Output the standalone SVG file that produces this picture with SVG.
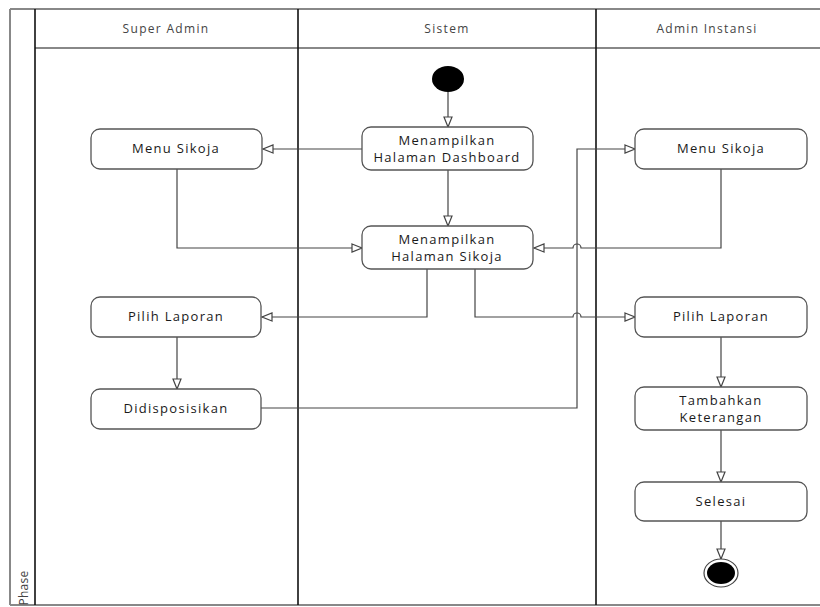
<svg xmlns="http://www.w3.org/2000/svg" width="820" height="607" viewBox="0 0 820 607">
<style>
.lbl{font-family:"Open Sans","Noto Sans","Liberation Sans",sans-serif;font-size:12px;letter-spacing:1.3px;fill:#444;text-anchor:middle}
.nt{font-family:"Open Sans","Noto Sans","Liberation Sans",sans-serif;font-size:13px;letter-spacing:1.3px;fill:#1a1a1a;text-anchor:middle}
.box{fill:#fff;stroke:#555;stroke-width:1.3}
.ln{fill:none;stroke:#444;stroke-width:1.2}
.fr{stroke:#888;stroke-width:2;fill:none}
.dv{stroke:#111;stroke-width:1.6;fill:none}
</style>
<defs>
<marker id="ah" viewBox="0 0 12 10" refX="11" refY="5" markerWidth="12" markerHeight="10" markerUnits="userSpaceOnUse" orient="auto">
<path d="M1,1 L11,5 L1,9 Z" fill="#fff" stroke="#444" stroke-width="1.2"/>
</marker>
</defs>
<rect width="820" height="607" fill="#fff"/>
<g id="frame">
<line class="fr" x1="10" y1="9" x2="820" y2="9"/>
<line class="fr" x1="35" y1="48" x2="820" y2="48"/>
<line class="fr" x1="10" y1="605" x2="820" y2="605"/>
<line class="fr" x1="10" y1="9" x2="10" y2="605"/>
<line class="dv" x1="35" y1="9" x2="35" y2="605"/>
<line class="dv" x1="298" y1="9" x2="298" y2="605"/>
<line class="dv" x1="596" y1="9" x2="596" y2="605"/>
<text class="lbl" x="166" y="33">Super Admin</text>
<text class="lbl" x="447" y="33">Sistem</text>
<text class="lbl" x="707" y="33">Admin Instansi</text>
<text class="lbl" transform="translate(28,588) rotate(-90)" style="letter-spacing:0.3px">Phase</text>
</g>
<g id="connectors">
<line class="ln" x1="448" y1="92" x2="448" y2="127" marker-end="url(#ah)"/>
<line class="ln" x1="362" y1="149" x2="263" y2="149" marker-end="url(#ah)"/>
<line class="ln" x1="448" y1="170" x2="448" y2="226" marker-end="url(#ah)"/>
<path class="ln" d="M177,169 V248 H362" marker-end="url(#ah)"/>
<path class="ln" d="M721,169 V248 H581 A4,4 0 0 0 573,248 H534" marker-end="url(#ah)"/>
<path class="ln" d="M427,269 V317 H262" marker-end="url(#ah)"/>
<path class="ln" d="M475,269 V317 H573 A4,4 0 0 1 581,317 H635" marker-end="url(#ah)"/>
<line class="ln" x1="177" y1="337" x2="177" y2="389" marker-end="url(#ah)"/>
<path class="ln" d="M261,408 H577 V149 H635" marker-end="url(#ah)"/>
<line class="ln" x1="721" y1="337" x2="721" y2="387" marker-end="url(#ah)"/>
<line class="ln" x1="721" y1="430" x2="721" y2="482" marker-end="url(#ah)"/>
<line class="ln" x1="721" y1="521" x2="721" y2="559" marker-end="url(#ah)"/>
</g>
<g id="start"><ellipse cx="448" cy="79" rx="16" ry="13" fill="#000"/></g>
<g id="dashboard"><rect class="box" x="362" y="127" width="171" height="43" rx="9"/>
<text class="nt" x="447" y="145">Menampilkan</text><text class="nt" x="447" y="162">Halaman Dashboard</text></g>
<g id="menu-sa"><rect class="box" x="91" y="129" width="171" height="40" rx="9"/>
<text class="nt" x="176" y="153">Menu Sikoja</text></g>
<g id="halaman-sikoja"><rect class="box" x="362" y="226" width="171" height="43" rx="9"/>
<text class="nt" x="447" y="244">Menampilkan</text><text class="nt" x="447" y="261">Halaman Sikoja</text></g>
<g id="menu-ai"><rect class="box" x="635" y="129" width="172" height="40" rx="9"/>
<text class="nt" x="721" y="153">Menu Sikoja</text></g>
<g id="pilih-sa"><rect class="box" x="91" y="297" width="170" height="40" rx="9"/>
<text class="nt" x="176" y="321">Pilih Laporan</text></g>
<g id="disposisi"><rect class="box" x="91" y="389" width="170" height="40" rx="9"/>
<text class="nt" x="176" y="413">Didisposisikan</text></g>
<g id="pilih-ai"><rect class="box" x="635" y="297" width="172" height="40" rx="9"/>
<text class="nt" x="721" y="321">Pilih Laporan</text></g>
<g id="tambahkan"><rect class="box" x="635" y="387" width="172" height="43" rx="9"/>
<text class="nt" x="721" y="405">Tambahkan</text><text class="nt" x="721" y="422">Keterangan</text></g>
<g id="selesai"><rect class="box" x="635" y="482" width="172" height="39" rx="9"/>
<text class="nt" x="721" y="506">Selesai</text></g>
<g id="end"><ellipse cx="721" cy="573" rx="17" ry="14" fill="#fff" stroke="#444" stroke-width="1.2"/>
<ellipse cx="721" cy="573" rx="14" ry="11" fill="#000"/></g>
</svg>
